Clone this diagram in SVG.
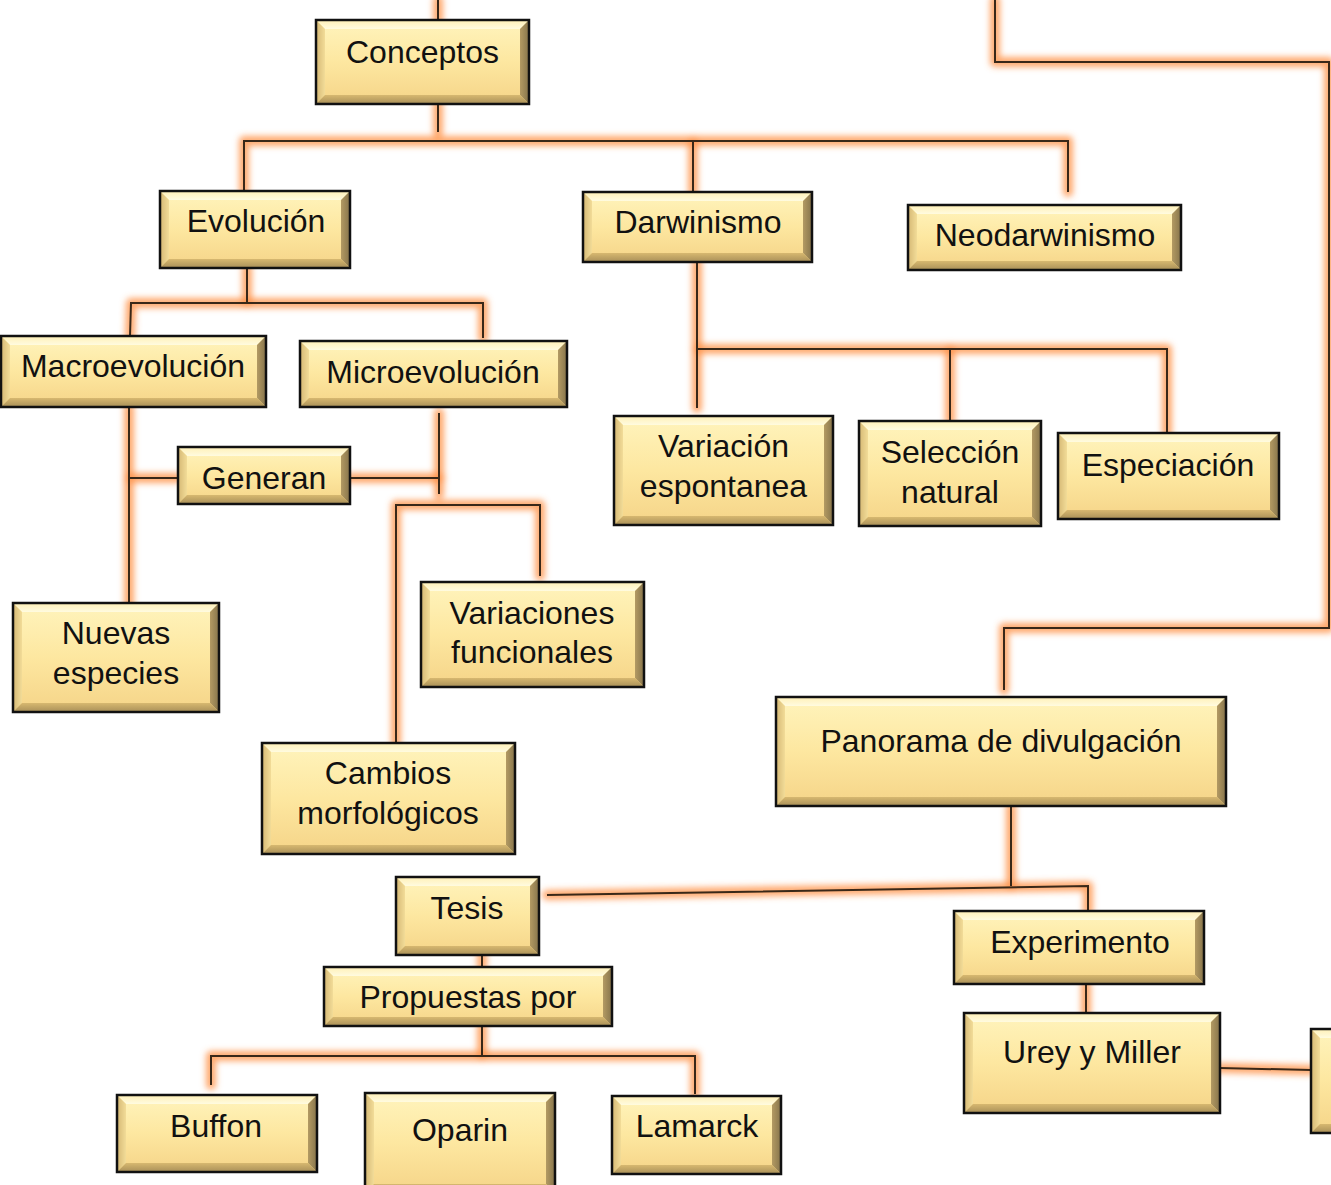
<svg xmlns="http://www.w3.org/2000/svg" xmlns:xlink="http://www.w3.org/1999/xlink" width="1331" height="1185" viewBox="0 0 1331 1185">
<style>
.face{fill:url(#gFace)}
.bt{fill:url(#gTop)}
.bl{fill:url(#gLeft)}
.br{fill:url(#gRight)}
.bb{fill:url(#gBot)}
.frame{fill:none;stroke:#111;stroke-width:2.5}
.lbl{font-family:"Liberation Sans",Arial,sans-serif;font-size:32px;fill:#111;text-anchor:middle}
.glow{fill:none;stroke:#ff9248;stroke-width:10;stroke-opacity:0.8;stroke-linecap:round;stroke-linejoin:round}
.line{fill:none;stroke:#3a2818;stroke-width:2}
</style>
<defs>
<linearGradient id="gFace" x1="0" y1="0" x2="0" y2="1">
<stop offset="0" stop-color="#fff4bd"/><stop offset="0.5" stop-color="#fde7a0"/><stop offset="1" stop-color="#f5d488"/>
</linearGradient>
<linearGradient id="gTop" x1="0" y1="0" x2="0" y2="1">
<stop offset="0" stop-color="#fff0b6"/><stop offset="1" stop-color="#fffbe0"/>
</linearGradient>
<linearGradient id="gLeft" x1="0" y1="0" x2="1" y2="0">
<stop offset="0" stop-color="#d5b874"/><stop offset="1" stop-color="#f2dc98"/>
</linearGradient>
<linearGradient id="gRight" x1="0" y1="0" x2="1" y2="0">
<stop offset="0" stop-color="#b39a63"/><stop offset="1" stop-color="#86744b"/>
</linearGradient>
<linearGradient id="gBot" x1="0" y1="0" x2="0" y2="1">
<stop offset="0" stop-color="#d7b870"/><stop offset="1" stop-color="#a88f58"/>
</linearGradient>
<filter id="blur" filterUnits="userSpaceOnUse" x="-20" y="-20" width="1380" height="1230">
<feGaussianBlur stdDeviation="3"/>
</filter>
<path id="c1" d="M438,0V20"/>
<path id="c2" d="M438,104V132"/>
<path id="c3" d="M244,191V141H1068V192"/>
<path id="c4" d="M693,141V192"/>
<path id="c5" d="M247,268V303"/>
<path id="c6" d="M130,336L131,303H483V338"/>
<path id="c7" d="M129,407V605"/>
<path id="c8" d="M129,478H178"/>
<path id="c9" d="M350,478H440"/>
<path id="c10" d="M439,413V494"/>
<path id="c11" d="M396,743V505H540V576"/>
<path id="c12" d="M697,262V408"/>
<path id="c13" d="M697,349H1167V433"/>
<path id="c14" d="M950,349V421"/>
<path id="c15" d="M995,0V62H1329V628H1004V690"/>
<path id="c16" d="M1011,806V886"/>
<path id="c17" d="M547,895L1088,886V911"/>
<path id="c18" d="M482,955V967"/>
<path id="c19" d="M1086,984V1013"/>
<path id="c20" d="M482,1026V1056"/>
<path id="c21" d="M211,1085V1056H695V1094"/>
<path id="c22" d="M1220,1068L1311,1070"/>
</defs>
<rect width="1331" height="1185" fill="#fff"/>
<g id="connectors">
<g class="glow" filter="url(#blur)">
<use xlink:href="#c1"/><use xlink:href="#c2"/><use xlink:href="#c3"/><use xlink:href="#c4"/><use xlink:href="#c5"/><use xlink:href="#c6"/><use xlink:href="#c7"/><use xlink:href="#c8"/><use xlink:href="#c9"/><use xlink:href="#c10"/><use xlink:href="#c11"/><use xlink:href="#c12"/><use xlink:href="#c13"/><use xlink:href="#c14"/><use xlink:href="#c15"/><use xlink:href="#c16"/><use xlink:href="#c17"/><use xlink:href="#c18"/><use xlink:href="#c19"/><use xlink:href="#c20"/><use xlink:href="#c21"/><use xlink:href="#c22"/>
</g>
<g class="line">
<use xlink:href="#c1"/><use xlink:href="#c2"/><use xlink:href="#c3"/><use xlink:href="#c4"/><use xlink:href="#c5"/><use xlink:href="#c6"/><use xlink:href="#c7"/><use xlink:href="#c8"/><use xlink:href="#c9"/><use xlink:href="#c10"/><use xlink:href="#c11"/><use xlink:href="#c12"/><use xlink:href="#c13"/><use xlink:href="#c14"/><use xlink:href="#c15"/><use xlink:href="#c16"/><use xlink:href="#c17"/><use xlink:href="#c18"/><use xlink:href="#c19"/><use xlink:href="#c20"/><use xlink:href="#c21"/><use xlink:href="#c22"/>
</g>
</g>

<g id="conceptos" transform="translate(316,20)">
<rect class="face" width="213" height="84"/>
<path class="bt" d="M0,0H213l-9,9H9z"/><path class="bl" d="M0,0l9,9V75L0,84z"/><path class="br" d="M213,0V84l-9,-9V9z"/><path class="bb" d="M0,84l9,-9H204l9,9z"/>
<rect class="frame" width="213" height="84"/>
<text class="lbl" x="106.5" y="43">Conceptos</text>
</g>

<g id="evolucion" transform="translate(160,191)">
<rect class="face" width="190" height="77"/>
<path class="bt" d="M0,0H190l-9,9H9z"/><path class="bl" d="M0,0l9,9V68L0,77z"/><path class="br" d="M190,0V77l-9,-9V9z"/><path class="bb" d="M0,77l9,-9H181l9,9z"/>
<rect class="frame" width="190" height="77"/>
<text class="lbl" x="96" y="41">Evolución</text>
</g>

<g id="darwinismo" transform="translate(583,192)">
<rect class="face" width="229" height="70"/>
<path class="bt" d="M0,0H229l-9,9H9z"/><path class="bl" d="M0,0l9,9V61L0,70z"/><path class="br" d="M229,0V70l-9,-9V9z"/><path class="bb" d="M0,70l9,-9H220l9,9z"/>
<rect class="frame" width="229" height="70"/>
<text class="lbl" x="115" y="41">Darwinismo</text>
</g>

<g id="neodarwinismo" transform="translate(908,205)">
<rect class="face" width="273" height="65"/>
<path class="bt" d="M0,0H273l-9,9H9z"/><path class="bl" d="M0,0l9,9V56L0,65z"/><path class="br" d="M273,0V65l-9,-9V9z"/><path class="bb" d="M0,65l9,-9H264l9,9z"/>
<rect class="frame" width="273" height="65"/>
<text class="lbl" x="137" y="41">Neodarwinismo</text>
</g>

<g id="macroevolucion" transform="translate(1,336)">
<rect class="face" width="265" height="71"/>
<path class="bt" d="M0,0H265l-9,9H9z"/><path class="bl" d="M0,0l9,9V62L0,71z"/><path class="br" d="M265,0V71l-9,-9V9z"/><path class="bb" d="M0,71l9,-9H256l9,9z"/>
<rect class="frame" width="265" height="71"/>
<text class="lbl" x="132" y="41">Macroevolución</text>
</g>

<g id="microevolucion" transform="translate(300,341)">
<rect class="face" width="267" height="66"/>
<path class="bt" d="M0,0H267l-9,9H9z"/><path class="bl" d="M0,0l9,9V57L0,66z"/><path class="br" d="M267,0V66l-9,-9V9z"/><path class="bb" d="M0,66l9,-9H258l9,9z"/>
<rect class="frame" width="267" height="66"/>
<text class="lbl" x="133" y="42">Microevolución</text>
</g>

<g id="generan" transform="translate(178,447)">
<rect class="face" width="172" height="57"/>
<path class="bt" d="M0,0H172l-9,9H9z"/><path class="bl" d="M0,0l9,9V48L0,57z"/><path class="br" d="M172,0V57l-9,-9V9z"/><path class="bb" d="M0,57l9,-9H163l9,9z"/>
<rect class="frame" width="172" height="57"/>
<text class="lbl" x="86" y="42">Generan</text>
</g>

<g id="variacion" transform="translate(614,416)">
<rect class="face" width="219" height="109"/>
<path class="bt" d="M0,0H219l-9,9H9z"/><path class="bl" d="M0,0l9,9V100L0,109z"/><path class="br" d="M219,0V109l-9,-9V9z"/><path class="bb" d="M0,109l9,-9H210l9,9z"/>
<rect class="frame" width="219" height="109"/>
<text class="lbl" x="109.5" y="41">Variación</text>
<text class="lbl" x="109.5" y="81">espontanea</text>
</g>

<g id="seleccion" transform="translate(859,421)">
<rect class="face" width="182" height="105"/>
<path class="bt" d="M0,0H182l-9,9H9z"/><path class="bl" d="M0,0l9,9V96L0,105z"/><path class="br" d="M182,0V105l-9,-9V9z"/><path class="bb" d="M0,105l9,-9H173l9,9z"/>
<rect class="frame" width="182" height="105"/>
<text class="lbl" x="91" y="42">Selección</text>
<text class="lbl" x="91" y="82">natural</text>
</g>

<g id="especiacion" transform="translate(1058,433)">
<rect class="face" width="221" height="86"/>
<path class="bt" d="M0,0H221l-9,9H9z"/><path class="bl" d="M0,0l9,9V77L0,86z"/><path class="br" d="M221,0V86l-9,-9V9z"/><path class="bb" d="M0,86l9,-9H212l9,9z"/>
<rect class="frame" width="221" height="86"/>
<text class="lbl" x="110" y="43">Especiación</text>
</g>

<g id="nuevas" transform="translate(13,603)">
<rect class="face" width="206" height="109"/>
<path class="bt" d="M0,0H206l-9,9H9z"/><path class="bl" d="M0,0l9,9V100L0,109z"/><path class="br" d="M206,0V109l-9,-9V9z"/><path class="bb" d="M0,109l9,-9H197l9,9z"/>
<rect class="frame" width="206" height="109"/>
<text class="lbl" x="103" y="41">Nuevas</text>
<text class="lbl" x="103" y="81">especies</text>
</g>

<g id="variaciones" transform="translate(421,582)">
<rect class="face" width="223" height="105"/>
<path class="bt" d="M0,0H223l-9,9H9z"/><path class="bl" d="M0,0l9,9V96L0,105z"/><path class="br" d="M223,0V105l-9,-9V9z"/><path class="bb" d="M0,105l9,-9H214l9,9z"/>
<rect class="frame" width="223" height="105"/>
<text class="lbl" x="111" y="42">Variaciones</text>
<text class="lbl" x="111" y="81">funcionales</text>
</g>

<g id="cambios" transform="translate(262,743)">
<rect class="face" width="253" height="111"/>
<path class="bt" d="M0,0H253l-9,9H9z"/><path class="bl" d="M0,0l9,9V102L0,111z"/><path class="br" d="M253,0V111l-9,-9V9z"/><path class="bb" d="M0,111l9,-9H244l9,9z"/>
<rect class="frame" width="253" height="111"/>
<text class="lbl" x="126" y="41">Cambios</text>
<text class="lbl" x="126" y="81">morfológicos</text>
</g>

<g id="panorama" transform="translate(776,697)">
<rect class="face" width="450" height="109"/>
<path class="bt" d="M0,0H450l-9,9H9z"/><path class="bl" d="M0,0l9,9V100L0,109z"/><path class="br" d="M450,0V109l-9,-9V9z"/><path class="bb" d="M0,109l9,-9H441l9,9z"/>
<rect class="frame" width="450" height="109"/>
<text class="lbl" x="225" y="55">Panorama de divulgación</text>
</g>

<g id="tesis" transform="translate(396,877)">
<rect class="face" width="143" height="78"/>
<path class="bt" d="M0,0H143l-9,9H9z"/><path class="bl" d="M0,0l9,9V69L0,78z"/><path class="br" d="M143,0V78l-9,-9V9z"/><path class="bb" d="M0,78l9,-9H134l9,9z"/>
<rect class="frame" width="143" height="78"/>
<text class="lbl" x="71" y="42">Tesis</text>
</g>

<g id="experimento" transform="translate(954,911)">
<rect class="face" width="250" height="73"/>
<path class="bt" d="M0,0H250l-9,9H9z"/><path class="bl" d="M0,0l9,9V64L0,73z"/><path class="br" d="M250,0V73l-9,-9V9z"/><path class="bb" d="M0,73l9,-9H241l9,9z"/>
<rect class="frame" width="250" height="73"/>
<text class="lbl" x="126" y="42">Experimento</text>
</g>

<g id="propuestas" transform="translate(324,967)">
<rect class="face" width="288" height="59"/>
<path class="bt" d="M0,0H288l-9,9H9z"/><path class="bl" d="M0,0l9,9V50L0,59z"/><path class="br" d="M288,0V59l-9,-9V9z"/><path class="bb" d="M0,59l9,-9H279l9,9z"/>
<rect class="frame" width="288" height="59"/>
<text class="lbl" x="144" y="41">Propuestas por</text>
</g>

<g id="urey" transform="translate(964,1013)">
<rect class="face" width="256" height="100"/>
<path class="bt" d="M0,0H256l-9,9H9z"/><path class="bl" d="M0,0l9,9V91L0,100z"/><path class="br" d="M256,0V100l-9,-9V9z"/><path class="bb" d="M0,100l9,-9H247l9,9z"/>
<rect class="frame" width="256" height="100"/>
<text class="lbl" x="128" y="50">Urey y Miller</text>
</g>

<g id="buffon" transform="translate(117,1095)">
<rect class="face" width="200" height="77"/>
<path class="bt" d="M0,0H200l-9,9H9z"/><path class="bl" d="M0,0l9,9V68L0,77z"/><path class="br" d="M200,0V77l-9,-9V9z"/><path class="bb" d="M0,77l9,-9H191l9,9z"/>
<rect class="frame" width="200" height="77"/>
<text class="lbl" x="99" y="42">Buffon</text>
</g>

<g id="oparin" transform="translate(365,1093)">
<rect class="face" width="190" height="100"/>
<path class="bt" d="M0,0H190l-9,9H9z"/><path class="bl" d="M0,0l9,9V91L0,100z"/><path class="br" d="M190,0V100l-9,-9V9z"/><path class="bb" d="M0,100l9,-9H181l9,9z"/>
<rect class="frame" width="190" height="100"/>
<text class="lbl" x="95" y="48">Oparin</text>
</g>

<g id="lamarck" transform="translate(612,1096)">
<rect class="face" width="169" height="78"/>
<path class="bt" d="M0,0H169l-9,9H9z"/><path class="bl" d="M0,0l9,9V69L0,78z"/><path class="br" d="M169,0V78l-9,-9V9z"/><path class="bb" d="M0,78l9,-9H160l9,9z"/>
<rect class="frame" width="169" height="78"/>
<text class="lbl" x="85" y="41">Lamarck</text>
</g>

<g id="partial" transform="translate(1311,1029)">
<rect class="face" width="60" height="104"/>
<path class="bt" d="M0,0H60l-9,9H9z"/><path class="bl" d="M0,0l9,9V95L0,104z"/><path class="br" d="M60,0V104l-9,-9V9z"/><path class="bb" d="M0,104l9,-9H51l9,9z"/>
<rect class="frame" width="60" height="104"/>
</g>
</svg>
